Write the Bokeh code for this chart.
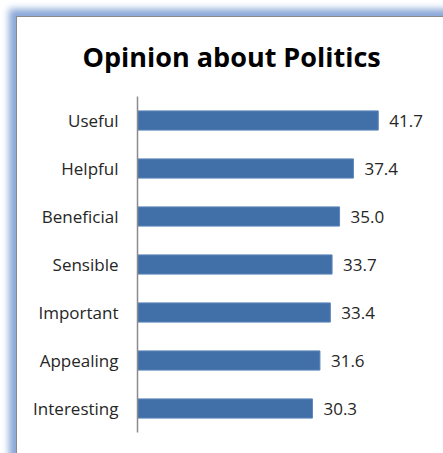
from bokeh.plotting import figure
from bokeh.models import ColumnDataSource, Range1d
from bokeh.embed import file_html
from bokeh.resources import INLINE

categories = ["Useful", "Helpful", "Beneficial", "Sensible", "Important", "Appealing", "Interesting"]
values = [41.7, 37.4, 35.0, 33.7, 33.4, 31.6, 30.3]
value_labels = ["41.7", "37.4", "35.0", "33.7", "33.4", "31.6", "30.3"]

src = ColumnDataSource(dict(cat=categories, val=values, lab=value_labels))

p = figure(
    width=426, height=436,
    y_range=list(reversed(categories)),
    x_range=Range1d(0, 53.0),
    output_backend="svg", toolbar_location=None,
    title="Opinion about Politics",
    min_border_left=120, min_border_right=0, min_border_bottom=21, min_border_top=79,
)
p.styles = {
    "margin-left": "17px",
    "margin-top": "17px",
    "box-shadow": "0 0 0 1px #8a8a8a, 0 0 7px 8px #8aa8d8",
    "background": "white",
}

p.hbar(y="cat", right="val", height=0.4, source=src,
       fill_color="#4170A8", line_color="#5b85bb", line_width=1)
p.text(x="val", y="cat", text="lab", source=src, x_offset=11,
       text_baseline="middle", text_align="left",
       text_font={"value": "Open Sans"}, text_font_size="17px", text_color="#262626")

p.title.text_font = "Open Sans"
p.title.text_font_style = "bold"
p.title.text_font_size = "27px"
p.title.text_color = "#000000"
p.title.align = "left"
p.title.vertical_align = "top"
p.title.offset = -55
p.title.standoff = 40

p.xaxis.visible = False
p.grid.visible = False
p.outline_line_color = None
p.background_fill_color = "white"
p.border_fill_color = "white"

ya = p.yaxis[0]
ya.axis_line_color = "#8c8c8c"
ya.axis_line_width = 1.5
ya.major_tick_line_color = None
ya.minor_tick_line_color = None
ya.major_tick_in = 0
ya.major_tick_out = 0
ya.major_label_standoff = 19
ya.major_label_text_font = "Open Sans"
ya.major_label_text_font_size = "17px"
ya.major_label_text_color = "#262626"

open("out.html", "w").write(file_html(p, INLINE))
